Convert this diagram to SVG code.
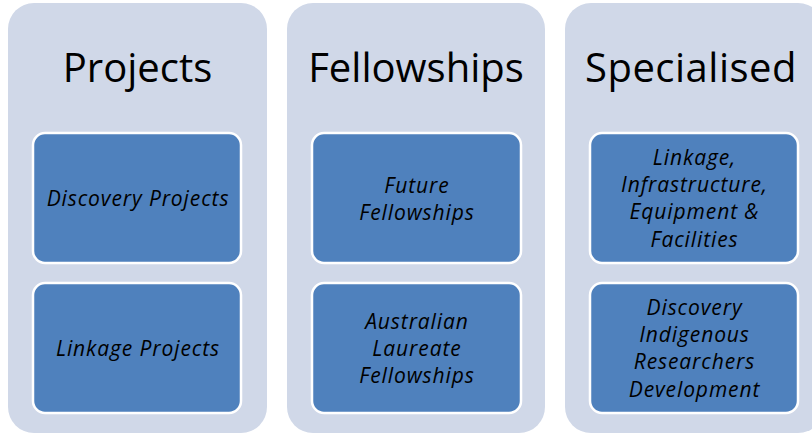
<svg xmlns="http://www.w3.org/2000/svg" width="812" height="434" viewBox="0 0 812 434">
<style>
.panel{fill:#D0D8E8;}
.box{fill:#4F81BD;stroke:#FFFFFF;stroke-width:2.5;}
.title{font-family:"Open Sans","Liberation Sans",sans-serif;font-size:40px;fill:#000;text-anchor:middle;}
.lbl{font-family:"Open Sans","Liberation Sans",sans-serif;font-size:21px;letter-spacing:0.9px;font-style:italic;fill:#000;text-anchor:middle;}
</style>
<rect width="812" height="434" fill="#FFFFFF"/>
<g id="col-projects">
<rect class="panel" x="8" y="3" width="259" height="430" rx="26"/>
<text class="title" x="137.5" y="82">Projects</text>
</g>
<g id="discovery-projects">
<rect class="box" x="33" y="133" width="208" height="130" rx="12"/>
<text class="lbl" x="138" y="206">Discovery Projects</text>
</g>
<g id="linkage-projects">
<rect class="box" x="33" y="283" width="208" height="130" rx="12"/>
<text class="lbl" x="138" y="356">Linkage Projects</text>
</g>
<g id="col-fellowships">
<rect class="panel" x="287" y="3" width="258" height="430" rx="26"/>
<text class="title" x="416" y="82">Fellowships</text>
</g>
<g id="future-fellowships">
<rect class="box" x="312" y="133" width="209" height="130" rx="12"/>
<text class="lbl" x="417" y="192.5">Future</text>
<text class="lbl" x="417" y="219.8">Fellowships</text>
</g>
<g id="laureate-fellowships">
<rect class="box" x="312" y="283" width="209" height="130" rx="12"/>
<text class="lbl" x="417" y="328.5">Australian</text>
<text class="lbl" x="417" y="355.8">Laureate</text>
<text class="lbl" x="417" y="383.1">Fellowships</text>
</g>
<g id="col-specialised">
<rect class="panel" x="565" y="3" width="259" height="430" rx="26"/>
<text class="title" x="691" y="82" style="letter-spacing:0.5px">Specialised</text>
</g>
<g id="lief">
<rect class="box" x="590" y="133" width="208" height="130" rx="12"/>
<text class="lbl" x="694.5" y="164.5">Linkage,</text>
<text class="lbl" x="694.5" y="191.8">Infrastructure,</text>
<text class="lbl" x="694.5" y="219.1">Equipment &amp;</text>
<text class="lbl" x="694.5" y="246.5">Facilities</text>
</g>
<g id="dird">
<rect class="box" x="590" y="283" width="208" height="130" rx="12"/>
<text class="lbl" x="694.5" y="314.5">Discovery</text>
<text class="lbl" x="694.5" y="341.8">Indigenous</text>
<text class="lbl" x="694.5" y="369.1">Researchers</text>
<text class="lbl" x="694.5" y="396.5">Development</text>
</g>
<g id="connectors"></g>
</svg>
